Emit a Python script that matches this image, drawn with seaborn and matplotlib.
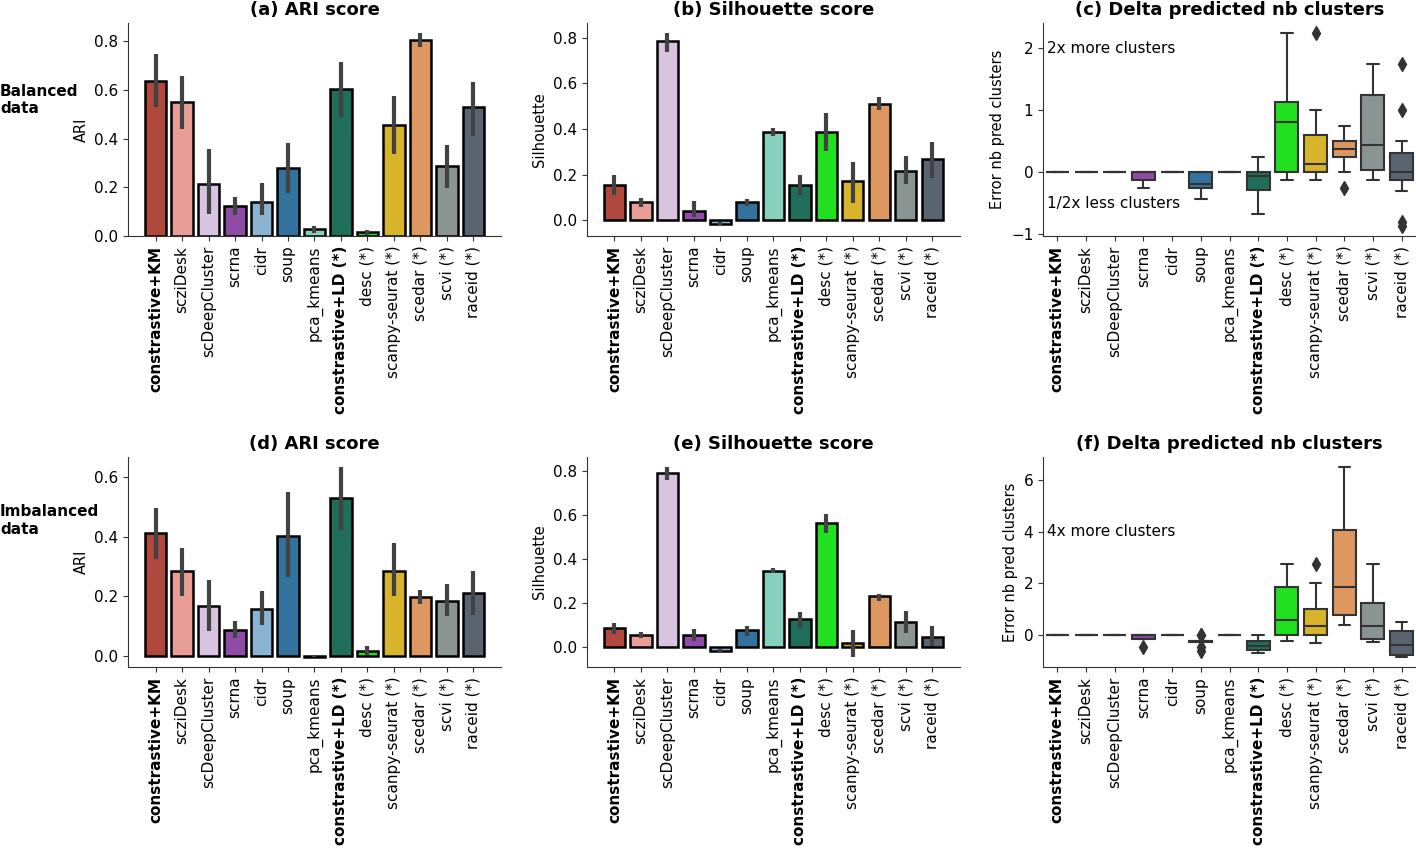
import numpy as np
import pandas as pd
import matplotlib.pyplot as plt
import seaborn as sns

# --- data ---
methods = ['constrastive+KM', 'scziDesk', 'scDeepCluster', 'scrna', 'cidr', 'soup',
           'pca_kmeans', 'constrastive+LD (*)', 'desc (*)', 'scanpy-seurat (*)',
           'scedar (*)', 'scvi (*)', 'raceid (*)']
colors = ['#b0483e', '#e89e96', '#d8c4e0', '#8e4ca6', '#8ab4d2', '#34729e',
          '#88d0be', '#1e6e5a', '#20e020', '#d8b42c', '#dc9860', '#8a9492', '#5a6470']

# (a) ARI, balanced data
ari_bal = [0.639, 0.550, 0.213, 0.122, 0.141, 0.279, 0.027, 0.603, 0.015, 0.457, 0.807, 0.289, 0.529]
ari_bal_lo = [0.529, 0.440, 0.092, 0.085, 0.085, 0.176, 0.014, 0.488, 0.006, 0.338, 0.776, 0.197, 0.413]
ari_bal_hi = [0.748, 0.656, 0.358, 0.160, 0.217, 0.383, 0.041, 0.714, 0.026, 0.574, 0.834, 0.376, 0.635]

# (b) Silhouette, balanced data
sil_bal = [0.155, 0.078, 0.786, 0.042, -0.018, 0.078, 0.385, 0.155, 0.385, 0.170, 0.511, 0.216, 0.267]
sil_bal_lo = [0.112, 0.058, 0.736, 0.015, -0.027, 0.061, 0.369, 0.109, 0.305, 0.076, 0.485, 0.158, 0.185]
sil_bal_hi = [0.199, 0.098, 0.822, 0.083, -0.010, 0.094, 0.402, 0.199, 0.468, 0.257, 0.540, 0.282, 0.344]

# (c) delta predicted nb clusters, balanced data (one value per dataset)
delta_bal = [
    [0, 0, 0, 0, 0, 0, 0, 0, 0],
    [0, 0, 0, 0, 0, 0, 0, 0, 0],
    [0, 0, 0, 0, 0, 0, 0, 0, 0],
    [-0.25, -0.125, -0.125, 0, 0, 0, 0, 0],
    [0, 0, 0, 0, 0, 0, 0, 0, 0],
    [-0.44, -0.25, -0.25, -0.2, -0.2, 0, 0, 0],
    [0, 0, 0, 0, 0, 0, 0, 0, 0],
    [-0.68, -0.29, -0.29, -0.06, -0.06, 0, 0, 0.25],
    [-0.125, 0, 0, 0.75, 0.875, 1.125, 1.125, 2.25],
    [-0.125, 0, 0, 0.125, 0.125, 0.6, 0.6, 1.0, 2.25],
    [-0.25, 0, 0.25, 0.25, 0.375, 0.5, 0.5, 0.75, 0.75],
    [-0.125, 0.04, 0.04, 0.25, 0.43, 0.75, 1.25, 1.25, 1.75],
    [-0.875, -0.8, -0.3125, -0.125, -0.125, 0, 0, 0.125, 0.25, 0.3125, 0.5, 1.0, 1.75],
]

# (d) ARI, imbalanced data
ari_imb = [0.411, 0.285, 0.167, 0.088, 0.159, 0.401, -0.002, 0.529, 0.017, 0.286, 0.198, 0.185, 0.212]
ari_imb_lo = [0.326, 0.201, 0.085, 0.060, 0.103, 0.263, -0.005, 0.422, 0.003, 0.201, 0.174, 0.134, 0.136]
ari_imb_hi = [0.497, 0.361, 0.253, 0.116, 0.218, 0.549, 0.002, 0.634, 0.033, 0.377, 0.221, 0.241, 0.283]

# (e) Silhouette, imbalanced data
sil_imb = [0.083, 0.052, 0.790, 0.053, -0.018, 0.074, 0.345, 0.124, 0.561, 0.018, 0.230, 0.112, 0.046]
sil_imb_lo = [0.058, 0.040, 0.756, 0.025, -0.030, 0.049, 0.335, 0.087, 0.515, -0.049, 0.210, 0.063, 0.003]
sil_imb_hi = [0.106, 0.065, 0.819, 0.081, -0.009, 0.096, 0.356, 0.158, 0.604, 0.078, 0.242, 0.161, 0.093]

# (f) delta predicted nb clusters, imbalanced data
delta_imb = [
    [0, 0, 0, 0, 0, 0, 0, 0, 0],
    [0, 0, 0, 0, 0, 0, 0, 0, 0],
    [0, 0, 0, 0, 0, 0, 0, 0, 0],
    [-0.44, -0.14, -0.14, -0.14, 0, 0, 0, 0, 0],
    [0, 0, 0, 0, 0, 0, 0, 0, 0],
    [-0.6, -0.45, -0.25, -0.25, -0.2, -0.2, -0.2, 0.0, 0.03],
    [0, 0, 0, 0, 0, 0, 0, 0, 0],
    [-0.67, -0.57, -0.57, -0.45, -0.39, -0.3, -0.23, -0.1, 0.0],
    [-0.2, 0, 0, 0.3, 0.6, 1.2, 1.87, 2.3, 2.75],
    [-0.3, 0, 0, 0.2, 0.35, 0.6, 1.0, 2.0, 2.75],
    [0.4, 0.8, 0.8, 1.2, 1.87, 3.0, 4.05, 5.0, 6.5],
    [-0.25, -0.125, -0.125, 0.1, 0.375, 0.8, 1.25, 2.0, 2.75],
    [-0.85, -0.75, -0.75, -0.6, -0.375, -0.1, 0.17, 0.3, 0.5],
]

# --- figure ---
sns.set_style('ticks', {'axes.edgecolor': '.2', 'text.color': 'black',
                        'axes.labelcolor': 'black', 'xtick.color': '.2',
                        'ytick.color': '.2'})
plt.rcParams['font.family'] = ['DejaVu Sans']
fig = plt.figure(figsize=(14.16, 8.48), dpi=100)

lefts = [0.0904, 0.4145, 0.7366]
width = 0.2634
rows = [(0.7217, 0.2512), (0.2134, 0.2476)]


def style_axis(ax, title, ylabel):
    ax.set_title(title, fontsize=13, fontweight='bold', color='black')
    ax.set_ylabel(ylabel, fontsize=10.5, color='black')
    ax.set_xlabel('')
    ax.tick_params(axis='x', rotation=90, labelsize=11, labelcolor='black')
    ax.tick_params(axis='y', labelsize=11, labelcolor='black')
    for lab in ax.get_xticklabels():
        if lab.get_text().startswith('constrastive'):
            lab.set_fontweight('bold')
    sns.despine(ax=ax)


def bar_panel(ax, vals, lo, hi, title, ylabel):
    sns.barplot(x=methods, y=vals, hue=methods, palette=colors, saturation=1,
                errorbar=None, edgecolor='black', linewidth=1.8, legend=False, ax=ax)
    ax.vlines(np.arange(len(methods)), lo, hi, color='.26', linewidth=3, zorder=3)
    style_axis(ax, title, ylabel)


def box_panel(ax, data, title):
    df = pd.DataFrame({
        'method': np.repeat(methods, [len(d) for d in data]),
        'delta': np.concatenate(data),
    })
    sns.boxplot(data=df, x='method', y='delta', hue='method', palette=colors,
                saturation=1, linewidth=1.5, linecolor='.2', legend=False,
                flierprops=dict(marker='d', markerfacecolor='.2',
                                markeredgecolor='.2', markersize=7), ax=ax)
    style_axis(ax, title, 'Error nb pred clusters')


axes = [[fig.add_axes([l, b, width, h]) for l in lefts] for (b, h) in rows]

bar_panel(axes[0][0], ari_bal, ari_bal_lo, ari_bal_hi, '(a) ARI score', 'ARI')
bar_panel(axes[0][1], sil_bal, sil_bal_lo, sil_bal_hi, '(b) Silhouette score', 'Silhouette')
box_panel(axes[0][2], delta_bal, '(c) Delta predicted nb clusters')
axes[0][2].text(-0.36, 2, '2x more clusters', va='center', fontsize=11)
axes[0][2].text(-0.36, -0.5, '1/2x less clusters', va='center', fontsize=11)

bar_panel(axes[1][0], ari_imb, ari_imb_lo, ari_imb_hi, '(d) ARI score', 'ARI')
bar_panel(axes[1][1], sil_imb, sil_imb_lo, sil_imb_hi, '(e) Silhouette score', 'Silhouette')
box_panel(axes[1][2], delta_imb, '(f) Delta predicted nb clusters')
axes[1][2].text(-0.36, 4, '4x more clusters', va='center', fontsize=11)

fig.text(0.0, 0.882, 'Balanced\ndata', fontsize=11, fontweight='bold', va='center', ha='left')
fig.text(0.0, 0.386, 'Imbalanced\ndata', fontsize=11, fontweight='bold', va='center', ha='left')

fig.savefig('out.png', dpi=100)
